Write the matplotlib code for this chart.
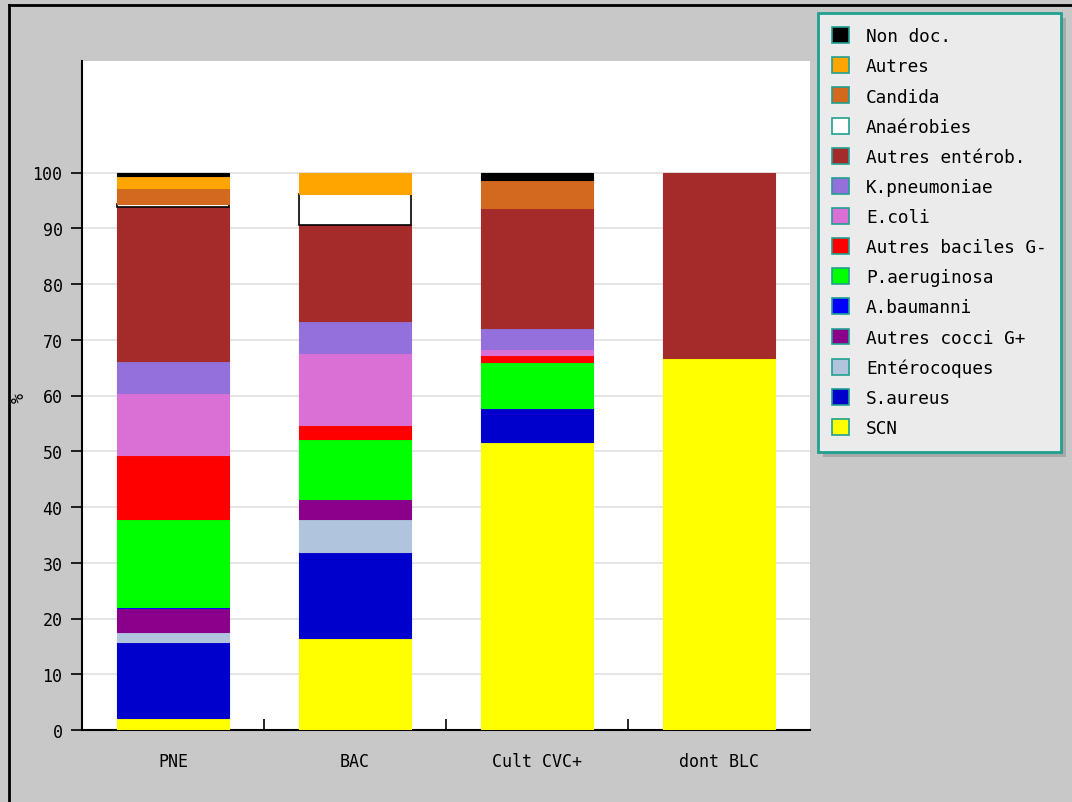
import matplotlib
matplotlib.use('Agg')

import matplotlib.pyplot as plt
from matplotlib.patches import Patch, Rectangle
from matplotlib.lines import Line2D

categories = ['PNE', 'BAC', 'Cult CVC+', 'dont BLC']

# bottom-to-top stacking order
series = ['SCN', 'S.aureus', 'Entérocoques', 'Autres cocci G+', 'A.baumanni',
          'P.aeruginosa', 'Autres baciles G-', 'E.coli', 'K.pneumoniae',
          'Autres entérob.', 'Anaérobies', 'Candida', 'Autres', 'Non doc.']

scn = [2.2, 16.5, 51.6, 66.7]
s_aureus = [13.6, 15.5, 6.1, 0]
enterocoques = [1.8, 5.8, 0, 0]
autres_cocci = [4.2, 3.7, 0, 0]
a_baumanni = [0.3, 0, 0, 0]
p_aeruginosa = [15.7, 10.7, 8.3, 0]
autres_baciles = [11.5, 2.5, 1.3, 0]
e_coli = [11.1, 12.9, 1.0, 0]
k_pneumoniae = [5.8, 5.8, 3.8, 0]
autres_enterob = [27.7, 17.1, 21.6, 33.3]
anaerobies = [0.4, 5.7, 0, 0]
candida = [2.9, 0, 4.9, 0]
autres = [2.1, 3.8, 0, 0]
non_doc = [0.7, 0, 1.4, 0]

values = [scn, s_aureus, enterocoques, autres_cocci, a_baumanni, p_aeruginosa,
          autres_baciles, e_coli, k_pneumoniae, autres_enterob, anaerobies,
          candida, autres, non_doc]

colors = ['#ffff00', '#0000cd', '#b0c4de', '#8b008b', '#0000ff', '#00ff00',
          '#ff0000', '#da70d6', '#9370db', '#a52a2a', '#ffffff', '#d2691e',
          '#ffa500', '#000000']

plt.rcParams['font.family'] = ['DejaVu Sans Mono']
plt.rcParams['font.size'] = 12

W, H = 1072, 803
fig = plt.figure(figsize=(W / 100, H / 100), dpi=100, facecolor='#c8c8c8')
ax = fig.add_axes([82 / W, 72 / H, 728 / W, 669 / H])
ax.set_facecolor('white')

x = list(range(len(categories)))
bottom = [0.0] * len(categories)
for name, vals, col in zip(series, values, colors):
    edge = 'black' if name == 'Anaérobies' else col
    lw = [(1.2 if name == 'Anaérobies' else 0.8) if v > 0 else 0 for v in vals]
    ax.bar(x, vals, 0.61, bottom=bottom, color=col, edgecolor=edge,
           linewidth=lw, zorder=3)
    bottom = [b + v for b, v in zip(bottom, vals)]

ax.set_xlim(-0.5, 3.5)
ax.set_ylim(0, 120)
ax.set_yticks(range(0, 101, 10))
ax.yaxis.grid(True, color='#e0e0e0', linewidth=1.2, zorder=0)
ax.set_xticks(x)
ax.set_xticklabels(categories)
ax.set_xticks([0.5, 1.5, 2.5], minor=True)
ax.tick_params(axis='x', which='major', length=0, pad=16)
ax.tick_params(axis='x', which='minor', length=8, direction='in', width=1.2)
ax.tick_params(axis='y', length=8, width=1.2, pad=6)
for s in ['top', 'right']:
    ax.spines[s].set_visible(False)
ax.spines['left'].set_linewidth(1.5)
ax.spines['bottom'].set_linewidth(1.5)
ax.set_ylabel('%')
ax.yaxis.set_label_coords((28 - 82) / 728, (731 - 398) / 669)

# legend, top entry first
handles = [Patch(facecolor=c, edgecolor='#20a090', linewidth=1.2, label=n)
           for n, c in zip(series[::-1], colors[::-1])]
leg = fig.legend(handles=handles, loc='upper left',
                 bbox_to_anchor=(818 / W, 1 - 14 / H),
                 frameon=True, fancybox=False, shadow=False,
                 facecolor='#ebebeb', edgecolor='#20a090',
                 handlelength=0.95, handleheight=1.0, labelspacing=0.68,
                 borderpad=0.8, borderaxespad=0, handletextpad=0.95,
                 fontsize=12.8)
leg.get_frame().set_linewidth(2)
leg.get_frame().set_alpha(1)

fig.canvas.draw()
bb = leg.get_window_extent().transformed(fig.transFigure.inverted())
fig.patches.append(Rectangle((bb.x0 + 5 / W, bb.y0 - 5 / H), bb.width, bb.height,
                             transform=fig.transFigure, facecolor='#a8a8a8',
                             edgecolor='none', zorder=-1))

# outer frame lines
fig.add_artist(Line2D([9 / W, 9 / W], [0, 1 - 6 / H], transform=fig.transFigure,
                      color='black', linewidth=2))
fig.add_artist(Line2D([9 / W, 1], [1 - 6 / H, 1 - 6 / H], transform=fig.transFigure,
                      color='black', linewidth=2))

fig.savefig('out.png', dpi=100, facecolor=fig.get_facecolor())
